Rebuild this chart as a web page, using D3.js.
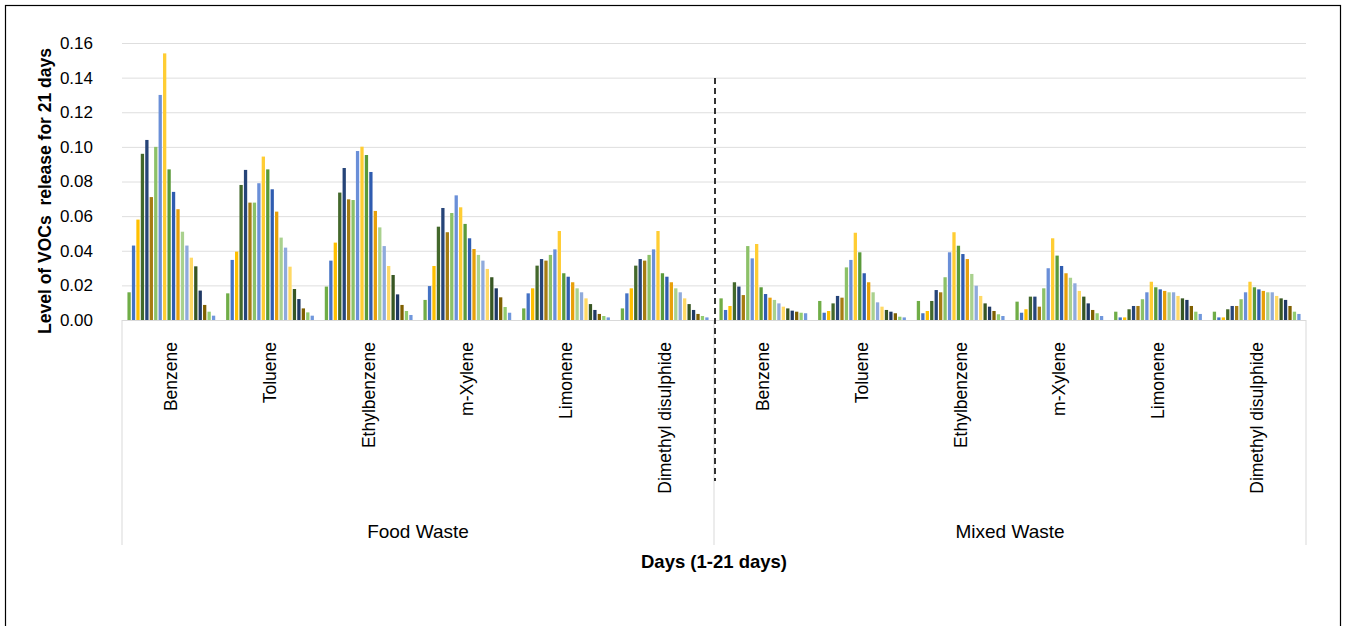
<!DOCTYPE html>
<html lang="en">
<head>
    <meta charset="UTF-8">
    <title>VOCs release</title>
    <script src="https://cdn.jsdelivr.net/npm/d3@7"></script>
    <style>
        body{ margin:0; background:#fff; }
        text{ font-family: "Liberation Sans", Arial, sans-serif; fill:#000; }
    </style>
</head>
<body>
<svg id="main" width="1345" height="626"></svg>

<script>
    // groups and compounds on the category axis
    let wasteTypes = ["Food Waste", "Mixed Waste"];
    let compounds = ["Benzene", "Toluene", "Ethylbenzene", "m-Xylene", "Limonene", "Dimethyl disulphide"];
    let days = d3.range(1, 21);   // one bar per day
    let yTicks = [0, 0.02, 0.04, 0.06, 0.08, 0.10, 0.12, 0.14, 0.16];

    // food waste, values per day
    let foodBenzene = [0.016,0.043,0.058,0.096,0.104,0.071,0.100,0.130,0.154,0.087,0.074,0.064,0.051,0.043,0.036,0.031,0.017,0.0087,0.0048,0.0025];
    let foodToluene = [0.0154,0.0347,0.0395,0.078,0.0867,0.0678,0.0678,0.079,0.0944,0.087,0.0755,0.0626,0.0476,0.0418,0.0308,0.0179,0.0121,0.0067,0.0044,0.0025];
    let foodEthylbenzene = [0.0193,0.0343,0.0447,0.0736,0.0878,0.0697,0.0693,0.0976,0.1001,0.0953,0.0855,0.063,0.0535,0.0427,0.0312,0.026,0.0148,0.0087,0.0052,0.0029];
    let foodXylene = [0.0116,0.0196,0.0312,0.0539,0.0647,0.0507,0.0618,0.072,0.0651,0.0555,0.0472,0.041,0.0376,0.0343,0.0295,0.0247,0.0183,0.0131,0.0075,0.0042];
    let foodLimonene = [0.0067,0.0154,0.0183,0.0314,0.0352,0.0343,0.0376,0.0408,0.0514,0.027,0.025,0.0218,0.0183,0.016,0.0125,0.0092,0.0058,0.0035,0.0023,0.0015];
    let foodDMDS = [0.0067,0.0154,0.0183,0.0314,0.0352,0.0343,0.0376,0.0408,0.0514,0.027,0.025,0.0218,0.0183,0.016,0.0125,0.0092,0.0058,0.0035,0.0023,0.0015];

    // mixed waste, values per day
    let mixedBenzene = [0.0125,0.0058,0.0081,0.0218,0.0193,0.0144,0.0427,0.0356,0.0439,0.0189,0.015,0.0129,0.0116,0.0096,0.0077,0.0067,0.0054,0.0048,0.0042,0.0039];
    let mixedToluene = [0.011,0.0042,0.0052,0.0096,0.0139,0.0129,0.0304,0.0347,0.0504,0.0391,0.027,0.0218,0.016,0.0102,0.0077,0.0058,0.0048,0.0039,0.0019,0.0015];
    let mixedEthylbenzene = [0.011,0.0039,0.0052,0.011,0.0173,0.016,0.0247,0.0391,0.0507,0.0429,0.0381,0.0352,0.0266,0.0198,0.0139,0.0096,0.0077,0.0052,0.0033,0.0023];
    let mixedXylene = [0.0106,0.0042,0.0062,0.0135,0.0135,0.0077,0.0183,0.0299,0.0472,0.0372,0.0312,0.027,0.0244,0.0212,0.0168,0.0135,0.0096,0.0058,0.0039,0.0023];
    let mixedLimonene = [0.0048,0.0015,0.0015,0.0062,0.0081,0.0081,0.012,0.016,0.0221,0.0189,0.0177,0.0168,0.016,0.016,0.0139,0.0125,0.0116,0.0081,0.0048,0.0035];
    let mixedDMDS = [0.0048,0.0015,0.0015,0.0062,0.0081,0.0081,0.012,0.016,0.0221,0.0189,0.0177,0.0168,0.016,0.016,0.0139,0.0125,0.0116,0.0081,0.0048,0.0035];

    let dayColors = ["#70ad47","#4472c4","#ffc000","#43682b","#264478","#a67c12",
                     "#8cc168","#6a8fd8","#ffcd33","#5a9a3a","#2f5cb0","#e8a00a",
                     "#a9d18e","#8faadc","#ffd966","#375623","#1f3864","#7f6000",
                     "#93cc70","#7097dc"];

    let groups = [
        {waste:"Food Waste", name:"Benzene", values:foodBenzene},
        {waste:"Food Waste", name:"Toluene", values:foodToluene},
        {waste:"Food Waste", name:"Ethylbenzene", values:foodEthylbenzene},
        {waste:"Food Waste", name:"m-Xylene", values:foodXylene},
        {waste:"Food Waste", name:"Limonene", values:foodLimonene},
        {waste:"Food Waste", name:"Dimethyl disulphide", values:foodDMDS},
        {waste:"Mixed Waste", name:"Benzene", values:mixedBenzene},
        {waste:"Mixed Waste", name:"Toluene", values:mixedToluene},
        {waste:"Mixed Waste", name:"Ethylbenzene", values:mixedEthylbenzene},
        {waste:"Mixed Waste", name:"m-Xylene", values:mixedXylene},
        {waste:"Mixed Waste", name:"Limonene", values:mixedLimonene},
        {waste:"Mixed Waste", name:"Dimethyl disulphide", values:mixedDMDS}
    ];
    groups.forEach((g,i)=>g.key = i);

    let svg = d3.select("#main");
    let plotLeft = 122, plotRight = 1306, plotTop = 43, plotBottom = 320;

    // outer frame
    svg.append("rect")
        .attr("x",5.5).attr("y",5.5)
        .attr("width",1335).attr("height",640)
        .attr("fill","none").attr("stroke","#000").attr("stroke-width",1.2);

    let y = d3.scaleLinear().domain([0,0.16]).range([plotBottom, plotTop]);
    let x0 = d3.scaleBand().domain(groups.map(g=>g.key)).range([plotLeft,plotRight]).paddingInner(0).paddingOuter(0);
    let x1 = d3.scaleBand().domain(days).range([0, x0.bandwidth()]).paddingInner(0).paddingOuter(1.095);
    let half = d3.scaleBand().domain(wasteTypes).range([plotLeft,plotRight]);

    // gridlines + y ticks
    let yAxis = d3.axisLeft(y).tickValues(yTicks).tickFormat(d3.format(".2f"))
        .tickSize(-(plotRight-plotLeft)).tickPadding(29);
    let ya = svg.append("g").attr("transform",`translate(${plotLeft},0)`).call(yAxis);
    ya.select(".domain").remove();
    ya.selectAll(".tick line").attr("stroke","#dedede").attr("stroke-width",1);
    ya.selectAll(".tick text").style("font-size","17px").attr("fill","#000");

    // bars
    let gs = svg.append("g").selectAll("g").data(groups).join("g")
        .attr("transform",d=>`translate(${x0(d.key)},0)`);
    let bw = x1.bandwidth()*0.74;
    gs.selectAll("rect").data(d=>d.values.map((v,i)=>({day:days[i], v:v})))
        .join("rect")
        .attr("x",d=>x1(d.day)+(x1.bandwidth()-bw)/2)
        .attr("width",bw)
        .attr("y",d=>y(d.v))
        .attr("height",d=>plotBottom-y(d.v))
        .attr("fill",(d,i)=>dayColors[i]);

    // category axis line and group separators
    svg.append("line").attr("x1",plotLeft).attr("x2",plotRight).attr("y1",plotBottom+0.5).attr("y2",plotBottom+0.5)
        .attr("stroke","#d9d9d9").attr("stroke-width",1.2);
    [plotLeft, (plotLeft+plotRight)/2, plotRight].forEach(xx=>{
        svg.append("line").attr("x1",xx).attr("x2",xx).attr("y1",plotBottom).attr("y2",545)
            .attr("stroke","#d9d9d9").attr("stroke-width",1);
    });

    // compound labels (rotated)
    svg.append("g").selectAll("text").data(groups).join("text")
        .attr("transform",d=>`translate(${x0(d.key)+x0.bandwidth()/2+6},342) rotate(-90)`)
        .attr("text-anchor","end")
        .style("font-size","17.5px")
        .text(d=>d.name);

    // waste type labels
    svg.append("g").selectAll("text").data(wasteTypes).join("text")
        .attr("x",d=>half(d)+half.bandwidth()/2)
        .attr("y",538)
        .attr("text-anchor","middle")
        .style("font-size","19px")
        .text(d=>d);

    // dashed divider
    svg.append("line").attr("x1",715).attr("x2",715).attr("y1",78).attr("y2",481)
        .attr("stroke","#000").attr("stroke-width",1.6).attr("stroke-dasharray","6,4");

    // axis titles
    svg.append("text").attr("x",714).attr("y",568).attr("text-anchor","middle")
        .style("font-size","18.5px").style("font-weight","bold").text("Days (1-21 days)");
    svg.append("text").attr("transform","translate(51,191) rotate(-90)").attr("text-anchor","middle")
        .style("font-size","17.5px").style("font-weight","bold")
        .style("white-space","pre").text("Level of VOCs  release for 21 days");
</script>
</body>
</html>
